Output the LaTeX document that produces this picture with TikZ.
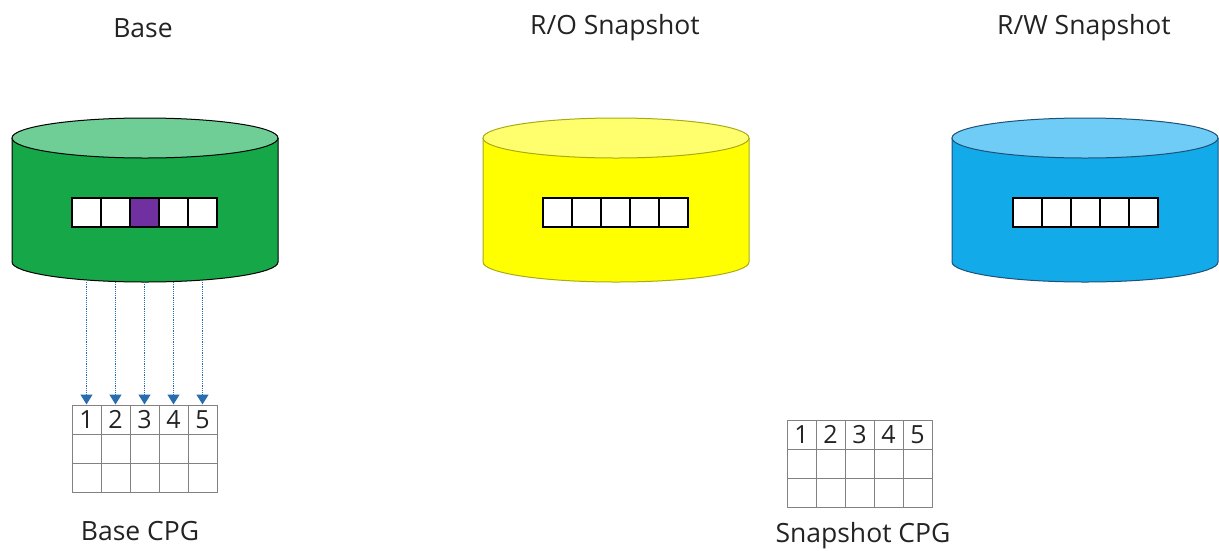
\documentclass[tikz,border=0pt]{standalone}
\usepackage{fontspec}
\setmainfont{Open Sans}
\usetikzlibrary{arrows.meta,positioning,shapes.geometric}
\definecolor{basebody}{RGB}{22,168,72}
\definecolor{basetop}{RGB}{110,206,150}
\definecolor{baseline}{RGB}{20,110,50}
\definecolor{robody}{RGB}{255,255,0}
\definecolor{rotop}{RGB}{255,255,110}
\definecolor{roline}{RGB}{170,170,20}
\definecolor{rwbody}{RGB}{18,170,232}
\definecolor{rwtop}{RGB}{110,204,246}
\definecolor{rwline}{RGB}{30,80,120}
\definecolor{markpurple}{RGB}{112,48,160}
\definecolor{gridgray}{RGB}{130,130,130}
\definecolor{txtgray}{RGB}{35,35,35}
\definecolor{ptrblue}{RGB}{40,110,175}

% disk: centre x, body colour, top colour, outline colour, name of bottom point
\newcommand{\drawdisk}[5]{%
  \fill[#2] (#1-133,138) -- (#1-133,262) arc[start angle=180, end angle=360, x radius=133pt, y radius=20pt] -- (#1+133,138) -- cycle;
  \draw[#4, line width=1pt] (#1-133,138) -- (#1-133,262) arc[start angle=180, end angle=360, x radius=133pt, y radius=20pt] -- (#1+133,138);
  \draw[#4, fill=#3, line width=1pt] (#1,138) ellipse [x radius=133pt, y radius=20pt];
  \coordinate (#5) at (#1,282);
}

\begin{document}
\begin{tikzpicture}[x=1pt, y=-1pt,
  dcell/.style={draw=black, line width=1.4pt, fill=white, minimum size=29pt, inner sep=0pt},
  tcell/.style={draw=gridgray, line width=1pt, minimum width=29pt, minimum height=29pt, inner sep=0pt, text=txtgray, font=\fontsize{25}{25}\selectfont},
  title/.style={text=txtgray, font=\fontsize{26.5}{30}\selectfont},
  ptr/.style={densely dotted, line width=1.2pt, draw=ptrblue, -{Triangle[length=10pt,width=12pt,fill=ptrblue]}}
]
\useasboundingbox (0,0) rectangle (1219,550);

% titles
\node[title] (tbase) at (143,28) {Base};
\node[title] (tro) at (615,28) {R/O Snapshot};
\node[title] (trw) at (1084,28) {R/W Snapshot};

% disks
\drawdisk{145}{basebody}{basetop}{baseline}{base}
\drawdisk{616}{robody}{rotop}{roline}{ro}
\drawdisk{1085}{rwbody}{rwtop}{rwline}{rw}

% blocks inside the disks
\foreach \i in {1,...,5} {
  \node[dcell] (bb\i) at (72+29*\i-14.5,212.5) {};
  \node[dcell] (rb\i) at (543+29*\i-14.5,212.5) {};
  \node[dcell] (wb\i) at (1013+29*\i-14.5,212.5) {};
}
\node[dcell, fill=markpurple] at (bb3) {};

% CPG tables
\foreach \i in {1,...,5} {
  \node[tcell] (bc1\i) at (72+29*\i-14.5,419.5) {\i};
  \node[tcell] (bc2\i) at (72+29*\i-14.5,448.5) {};
  \node[tcell] (bc3\i) at (72+29*\i-14.5,477.5) {};
  \node[tcell] (sc1\i) at (787+29*\i-14.5,434.5) {\i};
  \node[tcell] (sc2\i) at (787+29*\i-14.5,463.5) {};
  \node[tcell] (sc3\i) at (787+29*\i-14.5,492.5) {};
}
\node[title] (lbase) at (140,531) {Base CPG};
\node[title] (lsnap) at (863,536) {Snapshot CPG};

% pointers from the base volume
\foreach \i in {1,...,5}
  \draw[ptr] (bc1\i |- base) -- (bc1\i.north);
\end{tikzpicture}
\end{document}
